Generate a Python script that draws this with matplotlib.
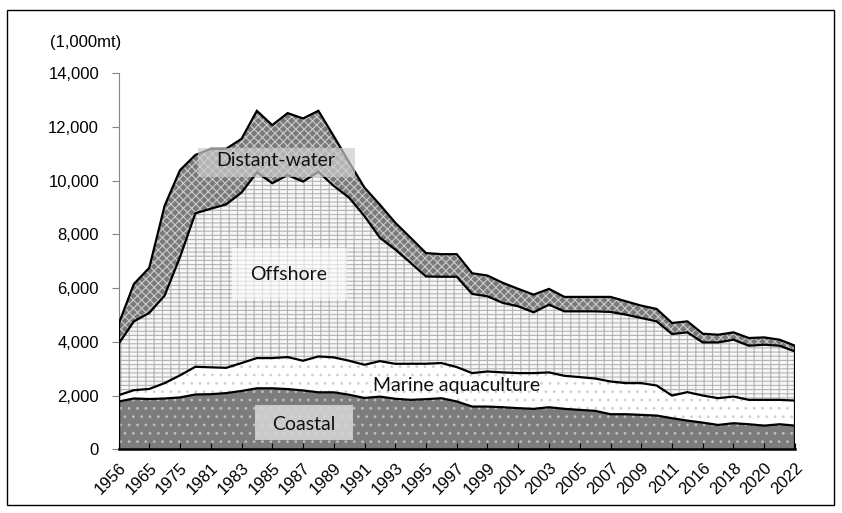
import matplotlib
matplotlib.use("Agg")
import matplotlib.pyplot as plt
import numpy as np
from matplotlib.patches import Rectangle

# categories (only every other one gets a label)
years = (["1956", "1960", "1965", "1970", "1975", "1980"]
         + [str(y) for y in range(1981, 2012)]
         + ["2015"] + [str(y) for y in range(2016, 2023)])

# production, 1,000 mt
coastal = [1776, 1890, 1870, 1890, 1930, 2040, 2050, 2090, 2170, 2270,
           2270, 2240, 2190, 2120, 2120, 2030, 1910, 1960, 1880, 1840,
           1865, 1900, 1780, 1590, 1590, 1565, 1530, 1505, 1565, 1505,
           1466, 1430, 1305, 1305, 1280, 1255, 1156, 1067, 992, 906,
           970, 932, 880, 932, 880]
aquaculture = [234, 310, 375, 572, 820, 1030, 1000, 940, 1038, 1124,
               1124, 1192, 1104, 1335, 1300, 1264, 1235, 1320, 1300, 1342,
               1317, 1308, 1279, 1245, 1305, 1295, 1305, 1330, 1295, 1229,
               1220, 1204, 1217, 1157, 1182, 1118, 844, 1059, 1008, 996,
               992, 907, 959, 907, 933]
offshore = [1910, 2560, 2828, 3258, 4400, 5710, 5900, 6082, 6342, 6906,
            6506, 6768, 6666, 6865, 6380, 6068, 5530, 4590, 4254, 3756,
            3248, 3212, 3361, 2945, 2797, 2586, 2485, 2261, 2522, 2399,
            2447, 2499, 2588, 2548, 2424, 2387, 2290, 2224, 1976, 2074,
            2115, 2014, 2051, 2014, 1827]
distant = [730, 1390, 1678, 3340, 3235, 2170, 2230, 2068, 2000, 2293,
           2160, 2307, 2349, 2273, 1850, 1318, 1060, 1230, 996, 932,
           870, 840, 840, 770, 772, 746, 648, 659, 586, 537,
           537, 537, 560, 496, 459, 462, 410, 410, 324, 287,
           273, 287, 273, 224, 213]

W, H = 842, 513
plt.rcParams['font.family'] = ['Liberation Sans', 'DejaVu Sans']
plt.rcParams['hatch.linewidth'] = 0.8

fig = plt.figure(figsize=(W / 100, H / 100), dpi=100)
L, R, T, B = 118.5, 795, 73, 449.3
ax = fig.add_axes([L / W, 1 - B / H, (R - L) / W, (B - T) / H])

x = np.arange(len(years))
stack = np.cumsum([coastal, aquaculture, offshore, distant], axis=0)
styles = [
    ('#7c7c7c', '..', '#bdbdbd'),   # coastal
    ('#ffffff', '..', '#d0d0d0'),   # marine aquaculture
    ('#f7f7f7', '++--', '#b4b4b4'), # offshore
    ('#7a7a7a', 'xxxx', '#cccccc'), # distant-water
]
base = np.zeros(len(years))
for top, (fc, hatch, hc) in zip(stack, styles):
    ax.fill_between(x, base, top, facecolor=fc, hatch=hatch, edgecolor=hc,
                    linewidth=0, zorder=1)
    ax.plot(x, top, color='black', lw=1.6, zorder=3, solid_joinstyle='miter')
    base = top
ax.plot([x[-1], x[-1]], [0, stack[-1][-1]], color='black', lw=1.6, zorder=3)
ax.plot([x[0], x[0]], [0, stack[-1][0]], color='black', lw=1.0, zorder=3)

ax.set_xlim(0, len(years) - 1)
ax.set_ylim(0, 14000)
ax.set_yticks(np.arange(0, 14001, 2000))
ax.set_yticklabels([f"{v:,}" for v in range(0, 14001, 2000)])
ax.set_xticks(x[::2])
ax.set_xticklabels(years[::2], rotation=45, ha='right', va='top',
                   rotation_mode='anchor')

for s in ['top', 'right']:
    ax.spines[s].set_visible(False)
ax.spines['left'].set_color('#868686')
ax.spines['bottom'].set_color('black')
ax.spines['bottom'].set_linewidth(1.8)
ax.spines['bottom'].set_zorder(4)
ax.tick_params(axis='y', direction='out', length=5, color='#868686',
               labelsize=12, pad=9)
ax.tick_params(axis='x', direction='in', length=4, color='black',
               labelsize=12, pad=8)

fig.text(50 / W, 1 - 43 / H, "(1,000mt)", fontsize=12, ha='left', va='center')


def ax_xy(px, py):
    return (px - L) / (R - L), (B - py) / (B - T)


def box(x0, y0, x1, y1, color, alpha):
    ax0, ay1 = ax_xy(x0, y1)
    ax1, ay0 = ax_xy(x1, y0)
    ax.add_patch(Rectangle((ax0, ay1), ax1 - ax0, ay0 - ay1,
                           transform=ax.transAxes, facecolor=color,
                           alpha=alpha, linewidth=0, zorder=5))


def label(px, py, s):
    tx, ty = ax_xy(px, py)
    ax.text(tx, ty, s, transform=ax.transAxes, ha='center', va='center',
            fontsize=14, family=['Lato', 'DejaVu Sans'], color='#111111',
            zorder=6)


box(198, 148, 355, 177, '#cdcdcd', 0.7)
label(276, 161, "Distant-water")
box(232, 248, 347, 300, '#ffffff', 0.6)
label(289, 275, "Offshore")
box(255, 405, 353, 440, '#d8d8d8', 0.85)
label(304, 424, "Coastal")
label(457, 385, "Marine aquaculture")

fig.add_artist(Rectangle((7 / W, 1 - 505 / H), (834 - 7) / W, (505 - 10) / H,
                         transform=fig.transFigure, fill=False,
                         edgecolor='black', linewidth=1.0))

fig.savefig("out.png", dpi=100)
